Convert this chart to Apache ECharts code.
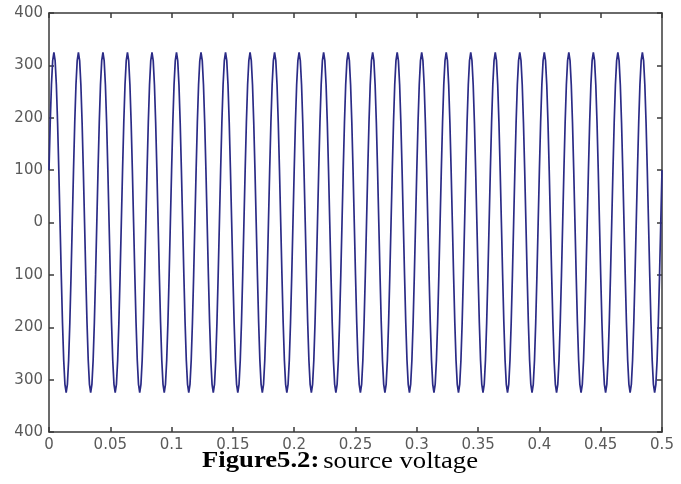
<!DOCTYPE html>
<html>
<head>
<meta charset="utf-8">
<script src="https://cdn.jsdelivr.net/npm/echarts@6/dist/echarts.min.js"></script>
<style>
  html, body { margin: 0; padding: 0; background: #fff; }
  #chart { width: 681px; height: 484px; }
</style>
</head>
<body>
<div id="chart"></div>
<script>
// one period of the source voltage, every 1 ms (V)
const cycleVolts = [100, 191, 263, 309, 325, 309, 263, 191, 100, 0,
                    -100, -191, -263, -309, -325, -309, -263, -191, -100, 0];
const sampleStep = 0.001;   // s
const cycleCount = 25;      // 50 Hz over 0.5 s
const xTicks = [0, 0.05, 0.1, 0.15, 0.2, 0.25, 0.3, 0.35, 0.4, 0.45, 0.5];
const yTicks = [-400, -300, -200, -100, 0, 100, 200, 300, 400];

let points = [];
for (let c = 0; c < cycleCount; c++) {
  cycleVolts.forEach((v, i) => {
    const n = c * cycleVolts.length + i;
    points.push([+(n * sampleStep).toFixed(4), v]);
  });
}
points.push([+(cycleCount * cycleVolts.length * sampleStep).toFixed(4), cycleVolts[0]]);

const chart = echarts.init(document.getElementById('chart'), null, { renderer: 'canvas' });

const axisLine = { show: true, onZero: false, lineStyle: { color: '#3a3a3a', width: 1.5 } };
const tickStyle = { show: true, inside: true, length: 5, lineStyle: { color: '#3a3a3a', width: 1.5 } };
const labelFont = { color: '#5a5a5a', fontSize: 15, fontFamily: 'DejaVu Sans, sans-serif' };

let option = {
  animation: false,
  backgroundColor: '#ffffff',
  grid: { left: 49, right: 19, top: 13, bottom: 52, containLabel: false },
  xAxis: [{
    type: 'value',
    min: xTicks[0],
    max: xTicks[xTicks.length - 1],
    interval: 0.05,
    axisLine: axisLine,
    axisTick: tickStyle,
    axisLabel: Object.assign({ margin: 6, formatter: v => String(+v.toFixed(2)) }, labelFont),
    splitLine: { show: false }
  }, {
    type: 'value',
    position: 'top',
    min: xTicks[0],
    max: xTicks[xTicks.length - 1],
    interval: 0.05,
    axisLine: axisLine,
    axisTick: tickStyle,
    axisLabel: { show: false },
    splitLine: { show: false }
  }],
  yAxis: [{
    type: 'value',
    min: yTicks[0],
    max: yTicks[yTicks.length - 1],
    interval: 100,
    axisLine: axisLine,
    axisTick: tickStyle,
    axisLabel: Object.assign({ margin: 6, formatter: v => String(Math.abs(v)) }, labelFont),
    splitLine: { show: false }
  }, {
    type: 'value',
    position: 'right',
    min: yTicks[0],
    max: yTicks[yTicks.length - 1],
    interval: 100,
    axisLine: axisLine,
    axisTick: tickStyle,
    axisLabel: { show: false },
    splitLine: { show: false }
  }],
  series: [{
    name: 'source voltage',
    type: 'line',
    xAxisIndex: 0,
    yAxisIndex: 0,
    data: points,
    showSymbol: false,
    smooth: false,
    lineStyle: { color: '#2b2b86', width: 1.7 }
  }],
  graphic: [{
    type: 'text',
    x: 340,
    y: 473,
    scaleX: 1.16,
    style: {
      x: 0,
      y: 0,
      align: 'center',
      verticalAlign: 'bottom',
      rich: {
        b: { fontFamily: 'Liberation Serif, Times New Roman, serif', fontSize: 23, fontWeight: 'bold', fill: '#000' },
        r: { fontFamily: 'Liberation Serif, Times New Roman, serif', fontSize: 23, fill: '#000' }
      },
      text: '{b|Figure5.2:} {r|source voltage}'
    }
  }]
};

chart.setOption(option);
</script>
</body>
</html>
